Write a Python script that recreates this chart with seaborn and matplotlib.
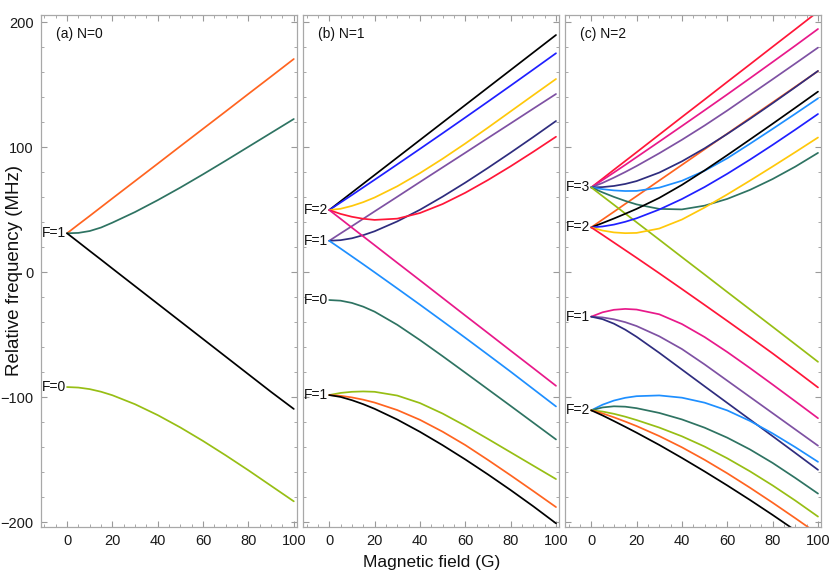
import matplotlib
matplotlib.use("Agg")
import matplotlib.pyplot as plt
from matplotlib.ticker import MultipleLocator
import seaborn as sns

# ---------------- data ----------------
G = [0, 5, 10, 15, 20, 30, 40, 50, 60, 70, 80, 90, 100]

# panel (a) N=0
a_orange = [31, 38, 44.9, 51.9, 58.9, 72.8, 86.7, 100.7, 114.6, 128.5, 142.5, 156.4, 170.4]
a_teal = [31, 31.3, 32.8, 35.6, 39.5, 48, 57.5, 67.6, 78.2, 89.1, 100.2, 111.3, 122.4]
a_black = [31, 24, 16.9, 9.9, 2.8, -11.3, -25.4, -39.5, -53.6, -67.7, -81.8, -95.9, -109.5]
a_ygreen = [-92, -92.4, -93.65, -95.75, -98.55, -105.75, -114.45, -124.35, -135.15, -146.65, -158.6, -171, -183.4]
a_level_text = ["F=1", "F=0"]
a_level_y = [31, -92]

# panel (b) N=1
b_black = [49.6, 56.6, 63.6, 70.6, 77.6, 91.6, 105.6, 119.6, 133.6, 147.6, 161.6, 175.6, 189.6]
b_blue = [49.6, 55.6, 61.6, 67.7, 73.8, 86.1, 98.5, 111, 123.6, 136.3, 149.1, 162, 175]
b_gold = [49.6, 50.6, 52.9, 55.9, 59.6, 68.6, 79.1, 90.6, 102.8, 115.5, 128.5, 141.5, 154.4]
b_purple = [25, 30.9, 36.7, 42.6, 48.5, 60.2, 72, 83.7, 95.4, 107.2, 118.9, 130.7, 142.4]
b_navy = [25, 25.5, 27, 29.5, 32.6, 40.5, 49.8, 60.3, 71.5, 83.3, 95.5, 108, 120.8]
b_red = [49.6, 46.5, 44.2, 42.6, 41.7, 42.7, 47.2, 54.4, 63.4, 73.6, 84.6, 96.2, 108.2]
b_pink = [49.6, 42.6, 35.5, 28.5, 21.5, 7.4, -6.6, -20.7, -34.8, -48.8, -62.9, -76.9, -91]
b_lblue = [25, 18.8, 12.5, 6.2, -0.2, -13.1, -26.1, -39.3, -52.6, -66.1, -79.7, -93.6, -107.5]
b_teal = [-22.4, -22.9, -24.7, -27.7, -31.7, -42.2, -54.4, -67.3, -80.5, -93.8, -107.1, -120.5, -133.9]
b_ygreen = [-98.4, -96.7, -95.8, -95.5, -95.8, -98.8, -104.8, -113.2, -123, -133.5, -144.2, -154.9, -165.6]
b_orange = [-98.4, -99, -100.3, -102.1, -104.4, -110.4, -118.2, -127.7, -138.4, -150.3, -162.6, -175.2, -188]
b_black2 = [-98.4, -99.9, -102.5, -105.7, -109.4, -118, -127.8, -138.5, -149.9, -161.9, -174.4, -187.4, -201]
b_level_text = ["F=2", "F=1", "F=0", "F=1"]
b_level_y = [49.6, 25, -22.4, -98.4]

# panel (c) N=2
c_red = [67.7, 74.7, 81.8, 88.8, 95.8, 109.9, 124, 138, 152.1, 166.1, 180.2, 194.2, 208.3]
c_pink = [67.7, 73.6, 79.6, 85.7, 91.9, 104.3, 116.8, 129.4, 142.1, 155, 168, 181.1, 194.4]
c_purple = [67.7, 71.3, 75.5, 80, 84.8, 95, 105.8, 117.2, 129.2, 141.7, 154.2, 166.8, 179.5]
c_navy = [67.7, 67.95, 68.85, 70.45, 72.75, 79.55, 88.55, 98.95, 110.45, 122.55, 135.05, 147.85, 160.85]
c_lblue = [67.7, 66.3, 65.3, 64.8, 64.9, 67.5, 73, 81, 91, 102.6, 114.5, 126.6, 138.9]
c_teal = [67.7, 63.7, 60.1, 56.9, 54.1, 50.5, 50.1, 53.1, 58.5, 65.7, 74.4, 84.3, 95.3]
c_ygreen = [67.7, 60.7, 53.8, 46.8, 39.8, 25.9, 11.9, -2, -16, -29.9, -43.8, -57.8, -71.8]
c_orange = [35.7, 42, 48.2, 54.5, 60.7, 73.2, 85.7, 98.2, 110.7, 123.2, 135.7, 148.2, 160.7]
c_black = [35.7, 39.2, 42.8, 46.6, 50.5, 59.3, 69.7, 81.3, 93.5, 106, 118.6, 131.4, 144.3]
c_blue = [35.7, 36.45, 37.95, 40.2, 43, 50, 58.4, 68, 78.6, 89.9, 101.7, 113.9, 126.4]
c_gold = [35.7, 33.2, 31.7, 31.1, 31.3, 34.8, 42, 51.6, 62.1, 73.1, 84.4, 95.9, 107.6]
c_red2 = [35.7, 29.7, 23.6, 17.5, 11.4, -1, -13.6, -26.3, -39.1, -52, -65.1, -78.6, -92.3]
c_pink2 = [-35.7, -32.2, -30.2, -29.5, -30, -33.8, -41.6, -52, -64, -76.8, -90, -103.4, -116.9]
c_purple2 = [-35.7, -36.3, -37.8, -40.1, -43.2, -51.4, -61.6, -73.9, -86.9, -99.9, -112.9, -125.9, -138.9]
c_navy2 = [-35.7, -37.7, -41.3, -46.1, -51.8, -64.6, -78, -91.4, -104.7, -118, -131.3, -144.7, -158.2]
c_lblue2 = [-110.6, -106.1, -102.8, -100.6, -99.3, -98.7, -100.5, -104.5, -110.7, -119.1, -129.1, -140.1, -151.8]
c_teal2 = [-110.6, -108.3, -107.4, -107.7, -108.9, -112.7, -117.9, -124.5, -132.5, -141.9, -152.7, -164.7, -177.2]
c_ygreen2 = [-110.6, -111.6, -113.4, -115.7, -118.4, -124.4, -131.4, -139.6, -149, -159.4, -170.7, -182.8, -195.6]
c_orange2 = [-110.6, -113.1, -116.2, -119.6, -123.2, -131.2, -140.2, -150.2, -161, -172.5, -184.5, -196.9, -209.6]
c_black2 = [-110.6, -114.7, -119.2, -123.8, -128.5, -138.3, -148.7, -159.5, -170.7, -182.3, -194.3, -206.7, -219.4]
c_level_text = ["F=3", "F=2", "F=1", "F=2"]
c_level_y = [67.7, 35.7, -35.7, -110.6]

panel_titles = ["(a) N=0", "(b) N=1", "(c) N=2"]
x_ticks = [0, 20, 40, 60, 80, 100]
y_ticks = [-200, -100, 0, 100, 200]
x_label = "Magnetic field (G)"
y_label = "Relative frequency (MHz)"

# ---------------- styling ----------------
COL = {
    "orange": "#FF6420", "teal": "#2E7362", "black": "#000000", "ygreen": "#97BE14",
    "blue": "#1F1FFF", "gold": "#FFC80A", "purple": "#7E51A3", "navy": "#2E2C7E",
    "red": "#FF1638", "pink": "#E8198A", "lblue": "#1E8FFF",
}

panels = [
    ([(a_orange, "orange"), (a_teal, "teal"), (a_black, "black"), (a_ygreen, "ygreen")],
     a_level_text, a_level_y),
    ([(b_black, "black"), (b_blue, "blue"), (b_gold, "gold"), (b_purple, "purple"),
      (b_navy, "navy"), (b_red, "red"), (b_pink, "pink"), (b_lblue, "lblue"),
      (b_teal, "teal"), (b_ygreen, "ygreen"), (b_orange, "orange"), (b_black2, "black")],
     b_level_text, b_level_y),
    ([(c_red, "red"), (c_pink, "pink"), (c_purple, "purple"), (c_orange, "orange"),
      (c_navy, "navy"), (c_lblue, "lblue"), (c_teal, "teal"), (c_ygreen, "ygreen"),
      (c_black, "black"), (c_blue, "blue"), (c_gold, "gold"), (c_red2, "red"),
      (c_pink2, "pink"), (c_purple2, "purple"), (c_navy2, "navy"), (c_lblue2, "lblue"),
      (c_teal2, "teal"), (c_ygreen2, "ygreen"), (c_orange2, "orange"), (c_black2, "black")],
     c_level_text, c_level_y),
]

sns.set_theme(style="white")
plt.rcParams["font.family"] = ["Liberation Sans", "DejaVu Sans"]

fig = plt.figure(figsize=(8.3, 5.74), dpi=100)
lefts = [40.5 / 830, 302.7 / 830, 564.7 / 830]
width = 256 / 830
bottom = 1 - 526.7 / 574
height = 511.7 / 574

for i, (curves, ltxt, ly) in enumerate(panels):
    ax = fig.add_axes([lefts[i], bottom, width, height])
    for vals, cname in curves:
        sns.lineplot(x=G, y=vals, color=COL[cname], lw=1.25, ax=ax, legend=False)
    for t, yv in zip(ltxt, ly):
        ax.text(-0.4, yv, t, ha="right", va="center", fontsize=10, color="#111111")
    ax.text(0.06, 0.962, panel_titles[i], transform=ax.transAxes, ha="left",
            va="center", fontsize=10, color="#111111")
    ax.set_xlim(-11.7, 101.2)
    ax.set_ylim(-203.7, 205.6)
    ax.set_xticks(x_ticks)
    ax.set_yticks(y_ticks)
    ax.xaxis.set_minor_locator(MultipleLocator(5))
    ax.yaxis.set_minor_locator(MultipleLocator(20))
    ax.tick_params(which="both", direction="in", bottom=True, left=True, top=True,
                   right=True, colors="#9a9a9a", labelcolor="#1a1a1a", labelsize=10.5)
    ax.tick_params(which="major", length=4, width=0.8, pad=5)
    ax.tick_params(which="minor", length=2.2, width=0.6)
    if i > 0:
        ax.tick_params(labelleft=False)
    for s in ax.spines.values():
        s.set_color("#a8a8a8")
        s.set_linewidth(0.9)
    ax.set_xlabel("")
    ax.set_ylabel("")

fig.text(0.52, 1 - 562 / 574, x_label, ha="center", va="center", fontsize=12.5,
         color="#111111")
fig.text(0.017, 1 - 270 / 574, y_label, ha="center", va="center", rotation=90,
         fontsize=13.5, color="#111111")

fig.savefig("out.png", dpi=100)
